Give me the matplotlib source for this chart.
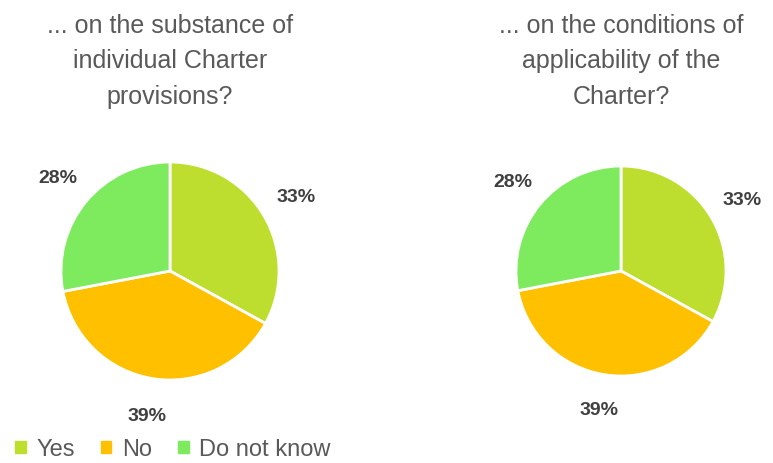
import matplotlib
matplotlib.use('Agg')
import matplotlib.pyplot as plt
from matplotlib.patches import Patch

# Données des deux questions
categories = ['Yes', 'No', 'Do not know']
valeurs_substance = [33, 39, 28]
valeurs_conditions = [33, 39, 28]
titres = ['... on the substance of\nindividual Charter\nprovisions?',
          '... on the conditions of\napplicability of the\nCharter?']
couleurs = ['#BEDE2F', '#FFC000', '#7EEB5E']

W, H = 773, 464
fig = plt.figure(figsize=(W / 100, H / 100), dpi=100)

def ajouter_camembert(cx, cy, r, valeurs, titre, tx):
    ax = fig.add_axes([(cx - r) / W, (H - cy - r) / H, 2 * r / W, 2 * r / H])
    ax.pie(valeurs, colors=couleurs, startangle=90, counterclock=False,
           autopct='%d%%', pctdistance=1.34,
           wedgeprops=dict(edgecolor='white', linewidth=2),
           textprops=dict(fontsize=14, fontweight='bold', color='#404040',
                          family=['Liberation Sans', 'DejaVu Sans']))
    ax.set_xlim(-1, 1)
    ax.set_ylim(-1, 1)
    ax.set_aspect('equal')
    fig.text(tx / W, 1 - 14 / H, titre, ha='center', va='top', fontsize=18,
             color='#595959', linespacing=1.6,
             family=['Liberation Sans Narrow', 'Liberation Sans', 'DejaVu Sans'])

ajouter_camembert(170, 272, 109, valeurs_substance, titres[0], 170)
ajouter_camembert(621, 272, 105, valeurs_conditions, titres[1], 621)

# Légende en bas à gauche
handles = [Patch(color=c, label=l) for c, l in zip(couleurs, categories)]
fig.legend(handles=handles, loc='lower left', bbox_to_anchor=(-0.008, -0.04),
           ncol=3, frameon=False, handlelength=0.45, handleheight=0.45,
           handletextpad=0.45, columnspacing=1.1,
           prop=dict(size=17, family=['Liberation Sans', 'DejaVu Sans']),
           labelcolor='#595959')

fig.savefig('out.png', dpi=100)
